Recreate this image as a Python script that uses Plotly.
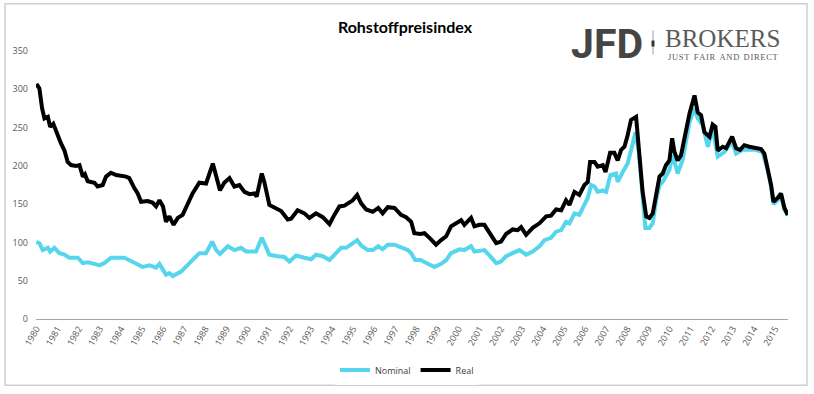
import plotly.graph_objects as go

title_text = "Rohstoffpreisindex"
years = list(range(1980, 2016))
year_labels = [str(y) for y in years]
y_ticks = [0, 50, 100, 150, 200, 250, 300, 350]

real_x = [1980.00, 1980.14, 1980.27, 1980.38, 1980.54, 1980.65, 1980.80, 1981.00, 1981.17, 1981.33,
          1981.48, 1981.64, 1981.88, 1982.04, 1982.20, 1982.30, 1982.43, 1982.75, 1982.90, 1983.14,
          1983.30, 1983.53, 1983.78, 1984.25, 1984.40, 1984.64, 1984.80, 1984.96, 1985.27, 1985.50,
          1985.67, 1985.83, 1986.00, 1986.14, 1986.30, 1986.50, 1986.70, 1986.93, 1987.17, 1987.40,
          1987.72, 1988.04, 1988.36, 1988.52, 1988.70, 1988.90, 1989.15, 1989.38, 1989.62, 1989.86,
          1990.10, 1990.33, 1990.44, 1990.68, 1990.80, 1991.04, 1991.28, 1991.60, 1991.91, 1992.07,
          1992.38, 1992.70, 1992.94, 1993.25, 1993.57, 1993.89, 1994.12, 1994.36, 1994.60, 1994.83,
          1994.99, 1995.20, 1995.39, 1995.63, 1995.94, 1996.20, 1996.41, 1996.65, 1996.97, 1997.28,
          1997.52, 1997.76, 1997.91, 1998.20, 1998.39, 1998.63, 1998.94, 1999.18, 1999.42, 1999.65,
          1999.97, 2000.13, 2000.28, 2000.60, 2000.76, 2000.99, 2001.23, 2001.47, 2001.79, 2002.02,
          2002.26, 2002.57, 2002.81, 2002.97, 2003.21, 2003.52, 2003.84, 2004.16, 2004.39, 2004.63,
          2004.87, 2005.10, 2005.26, 2005.50, 2005.73, 2005.97, 2006.13, 2006.24, 2006.45, 2006.60,
          2006.84, 2006.97, 2007.19, 2007.39, 2007.55, 2007.71, 2007.87, 2008.02, 2008.18, 2008.42,
          2008.58, 2008.73, 2008.90, 2009.05, 2009.21, 2009.37, 2009.53, 2009.68, 2009.84, 2010.00,
          2010.13, 2010.24, 2010.39, 2010.55, 2010.71, 2010.95, 2011.19, 2011.34, 2011.50, 2011.66,
          2011.90, 2012.05, 2012.18, 2012.29, 2012.53, 2012.69, 2012.97, 2013.16, 2013.35, 2013.55,
          2013.79, 2014.10, 2014.34, 2014.50, 2014.66, 2014.82, 2014.93, 2015.13, 2015.29, 2015.45,
          2015.61]
real_y = [307, 301, 275, 262, 264, 251, 255, 240, 229, 220,
          205, 201, 200, 201, 186, 189, 180, 178, 173, 175,
          186, 191, 188, 186, 184, 171, 164, 153, 154, 152,
          147, 155, 147, 127, 134, 123, 132, 136, 151, 164,
          178, 177, 203, 184, 168, 178, 184, 173, 175, 166,
          163, 164, 160, 190, 179, 149, 146, 141, 130, 131,
          142, 138, 132, 138, 133, 124, 136, 147, 148, 153,
          155, 162, 151, 143, 140, 145, 138, 146, 145, 136,
          133, 127, 112, 111, 112, 106, 97, 103, 108, 121,
          126, 129, 123, 132, 121, 123, 123, 112, 99, 101,
          111, 117, 116, 120, 110, 119, 125, 134, 135, 143,
          142, 155, 149, 166, 162, 175, 179, 205, 205, 199,
          201, 192, 217, 217, 207, 221, 225, 240, 260, 264,
          218, 166, 134, 132, 138, 162, 186, 190, 201, 207,
          236, 218, 207, 214, 236, 268, 292, 270, 266, 244,
          238, 254, 251, 220, 225, 223, 238, 223, 221, 227,
          225, 223, 222, 216, 197, 175, 153, 158, 164, 145,
          136]

nominal_x = [1980.00, 1980.14, 1980.30, 1980.54, 1980.65, 1980.85, 1981.09, 1981.33, 1981.56, 1981.96,
             1982.20, 1982.43, 1982.75, 1982.99, 1983.22, 1983.54, 1984.17, 1984.40, 1984.72, 1985.04,
             1985.36, 1985.67, 1985.83, 1986.14, 1986.30, 1986.46, 1986.86, 1987.17, 1987.49, 1987.72,
             1988.04, 1988.33, 1988.52, 1988.70, 1989.07, 1989.38, 1989.70, 1989.94, 1990.41, 1990.68,
             1990.80, 1991.04, 1991.44, 1991.75, 1991.99, 1992.31, 1992.70, 1993.02, 1993.25, 1993.57,
             1993.89, 1994.44, 1994.68, 1994.91, 1995.20, 1995.39, 1995.70, 1995.94, 1996.20, 1996.41,
             1996.65, 1996.97, 1997.28, 1997.60, 1997.76, 1997.95, 1998.20, 1998.47, 1998.86, 1999.18,
             1999.42, 1999.65, 2000.05, 2000.28, 2000.60, 2000.76, 2001.23, 2001.47, 2001.79, 2002.02,
             2002.26, 2002.57, 2002.89, 2003.21, 2003.52, 2003.84, 2004.08, 2004.39, 2004.63, 2004.87,
             2005.10, 2005.26, 2005.50, 2005.73, 2005.97, 2006.13, 2006.29, 2006.45, 2006.60, 2006.84,
             2007.00, 2007.20, 2007.47, 2007.55, 2007.79, 2008.02, 2008.26, 2008.39, 2008.55, 2008.73,
             2008.86, 2009.05, 2009.21, 2009.37, 2009.53, 2009.68, 2009.87, 2010.00, 2010.16, 2010.39,
             2010.63, 2010.95, 2011.19, 2011.34, 2011.58, 2011.82, 2012.05, 2012.29, 2012.60, 2012.97,
             2013.16, 2013.47, 2013.79, 2014.10, 2014.41, 2014.66, 2014.82, 2014.93, 2015.13, 2015.29,
             2015.45, 2015.61]
nominal_y = [101, 99, 90, 93, 88, 93, 86, 84, 80, 80,
             73, 74, 72, 70, 73, 80, 80, 77, 73, 68,
             70, 67, 72, 58, 60, 56, 62, 71, 80, 86,
             86, 101, 90, 85, 95, 90, 93, 88, 88, 106,
             99, 84, 82, 81, 75, 83, 80, 78, 84, 82,
             77, 93, 93, 98, 103, 96, 90, 90, 95, 91,
             97, 97, 93, 90, 86, 77, 77, 73, 68, 72,
             77, 86, 91, 90, 95, 88, 90, 83, 73, 75,
             82, 86, 90, 84, 88, 95, 103, 106, 114, 116,
             127, 125, 138, 136, 151, 158, 175, 173, 166, 168,
             166, 188, 190, 179, 192, 203, 229, 244, 218, 162,
             119, 119, 125, 155, 175, 179, 190, 195, 214, 190,
             208, 257, 275, 262, 253, 225, 249, 212, 218, 231,
             216, 221, 221, 221, 218, 195, 172, 150, 155, 161,
             143, 135]

W, H = 814, 394
ML, MR, MT, MB = 36, 26, 50.5, 74.5
PW, PH = W - ML - MR, H - MT - MB


def px(x):
    return (x - ML) / PW


def py(y):
    return (H - MB - y) / PH


fig = go.Figure()
fig.add_trace(go.Scatter(x=nominal_x, y=nominal_y, mode="lines", name="Nominal",
                         line=dict(color="#56d6ec", width=4)))
fig.add_trace(go.Scatter(x=real_x, y=real_y, mode="lines", name="Real",
                         line=dict(color="#000000", width=4)))

tick_font = dict(family="Open Sans, sans-serif", size=9, color="#595959")

fig.update_layout(
    width=W, height=H,
    margin=dict(l=ML, r=MR, t=MT, b=MB, autoexpand=False),
    paper_bgcolor="white", plot_bgcolor="white",
    showlegend=True,
    legend=dict(orientation="h", x=0.5, xanchor="center", xref="container",
                y=(H - 370) / H, yanchor="middle", yref="container",
                font=dict(family="Open Sans, sans-serif", size=9, color="#404040"),
                itemwidth=30, tracegroupgap=0),
    xaxis=dict(range=[1979.98, 2015.62], tickmode="array", tickvals=years, ticktext=year_labels,
               tickangle=-60, tickfont=tick_font, showgrid=False, zeroline=False, automargin=False,
               showline=True, linecolor="#a6a6a6", linewidth=1, ticks=""),
    yaxis=dict(range=[0, 350], tickmode="array", tickvals=y_ticks, tickfont=tick_font, automargin=False,
               showgrid=False, zeroline=False, showline=False, ticks="", ticklabelstandoff=7),
    title=dict(text=title_text, x=405 / W, xanchor="center", y=1 - 27 / H, yanchor="middle",
               font=dict(family="Lato, sans-serif", size=16, color="#000000", weight="bold")),
    shapes=[
        dict(type="rect", xref="paper", yref="paper", x0=px(5), x1=px(807), y0=py(386), y1=py(3),
             line=dict(color="#cfcfcf", width=1.5), fillcolor="rgba(0,0,0,0)", layer="below"),
        dict(type="line", xref="paper", yref="paper", x0=px(653), x1=px(653), y0=py(54), y1=py(30),
             line=dict(color="#a0a0a0", width=1)),
        dict(type="line", xref="paper", yref="paper", x0=px(653), x1=px(653), y0=py(46), y1=py(40),
             line=dict(color="#333333", width=3)),
    ],
    annotations=[
        dict(text="<b>JFD</b>", xref="paper", yref="paper", x=px(607), y=py(43),
             xanchor="center", yanchor="middle", showarrow=False,
             font=dict(family="Roboto, sans-serif", size=41, color="#454545")),
        dict(text="BROKERS", xref="paper", yref="paper", x=px(722), y=py(38),
             xanchor="center", yanchor="middle", showarrow=False,
             font=dict(family="Liberation Serif, serif", size=25, color="#5a5a5a")),
        dict(text="J U S T  F A I R  A N D  D I R E C T".replace("  ", "\u2002").replace(" ", "\u200a"),
             xref="paper", yref="paper", x=px(723), y=py(57),
             xanchor="center", yanchor="middle", showarrow=False,
             font=dict(family="Liberation Serif, serif", size=8.5, color="#5a5a5a")),
    ],
)

fig.write_html("out.html", config={"displayModeBar": False},
               post_script="document.body.style.margin='0';document.body.style.overflow='hidden';")
